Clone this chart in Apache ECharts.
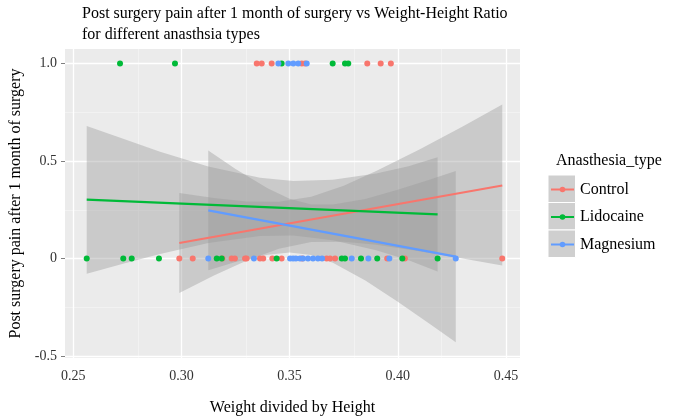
<!DOCTYPE html>
<html><head><meta charset="utf-8">
<script src="https://cdn.jsdelivr.net/npm/echarts@6/dist/echarts.min.js"></script>
<style>html,body{margin:0;padding:0;background:#fff}#chart{width:673px;height:419px}</style>
</head><body><div id="chart"></div>
<script>
// ---------- text ----------
const titleText = 'Post surgery pain after 1 month of surgery vs Weight-Height Ratio\nfor different anasthsia types';
const xTitle = 'Weight divided by Height';
const yTitle = 'Post surgery pain after 1 month of surgery';
const legendTitle = 'Anasthesia_type';
const groups = ['Control', 'Lidocaine', 'Magnesium'];
const groupColors = ['#F8766D', '#00BA38', '#619CFF'];

// ---------- axes ----------
const xTicks = [0.25, 0.30, 0.35, 0.40, 0.45];
const xMinor = [0.275, 0.325, 0.375, 0.425];
const yTicks = [-0.5, 0, 0.5, 1.0];
const yMinor = [-0.25, 0.25, 0.75];

// ---------- points ----------
const controlX = [0.2990,0.3052,0.3189,0.3232,0.3247,0.3294,0.3301,0.3363,0.3378,0.3420,0.3463,0.3558,0.3671,0.3687,0.3710,0.3951,0.4033,0.4483,
                  0.3348,0.3371,0.3417,0.3556,0.3571,0.3859,0.3921,0.3968];
const controlPain = [0,0,0,0,0,0,0,0,0,0,0,0,0,0,0,0,0,0, 1,1,1,1,1,1,1,1];
const lidocaineX = [0.2562,0.2731,0.2770,0.2896,0.3163,0.3186,0.3440,0.3741,0.3756,0.3830,0.3905,0.4021,0.4184,
                    0.2716,0.2970,0.3463,0.3699,0.3756,0.3771];
const lidocainePain = [0,0,0,0,0,0,0,0,0,0,0,0,0, 1,1,1,1,1,1];
const magnesiumX = [0.3124,0.3335,0.3502,0.3516,0.3529,0.3548,0.3562,0.3585,0.3608,0.3631,0.3650,0.3787,0.3864,0.3961,0.4268,
                    0.3448,0.3494,0.3517,0.3540,0.3579];
const magnesiumPain = [0,0,0,0,0,0,0,0,0,0,0,0,0,0,0, 1,1,1,1,1];

// ---------- fitted lines ----------
const controlFitX = [0.2990, 0.4483];
const controlFitY = [0.080, 0.375];
const lidocaineFitX = [0.2562, 0.4184];
const lidocaineFitY = [0.302, 0.227];
const magnesiumFitX = [0.3124, 0.4268];
const magnesiumFitY = [0.247, 0.010];

// ---------- confidence bands ----------
const controlBandX = [0.2990,0.3150,0.3300,0.3450,0.3600,0.3750,0.3900,0.4100,0.4300,0.4483];
const controlBandLow = [-0.177,-0.087,-0.011,0.051,0.085,0.086,0.071,0.038,0.001,-0.036];
const controlBandHigh = [0.337,0.311,0.293,0.291,0.317,0.374,0.449,0.560,0.677,0.790];
const lidocaineBandX = [0.2562,0.2747,0.2901,0.3124,0.3363,0.3517,0.3700,0.3900,0.4050,0.4184];
const lidocaineBandLow = [-0.078,-0.022,0.024,0.080,0.116,0.118,0.094,0.043,-0.008,-0.066];
const lidocaineBandHigh = [0.680,0.608,0.548,0.472,0.414,0.398,0.404,0.437,0.474,0.520];
const magnesiumBandX = [0.3124,0.3250,0.3400,0.3500,0.3600,0.3700,0.3850,0.4000,0.4150,0.4268];
const magnesiumBandLow = [-0.060,-0.018,0.020,0.031,0.018,-0.021,-0.112,-0.222,-0.337,-0.429];
const magnesiumBandHigh = [0.554,0.460,0.360,0.307,0.278,0.277,0.306,0.353,0.405,0.449];

const FONT = '"Liberation Serif", "DejaVu Serif", serif';
const zip = (a, b) => a.map((v, i) => [v, b[i]]);

const pts = [[controlX, controlPain], [lidocaineX, lidocainePain], [magnesiumX, magnesiumPain]];
const fits = [[controlFitX, controlFitY], [lidocaineFitX, lidocaineFitY], [magnesiumFitX, magnesiumFitY]];
const bands = [[controlBandX, controlBandLow, controlBandHigh],
               [lidocaineBandX, lidocaineBandLow, lidocaineBandHigh],
               [magnesiumBandX, magnesiumBandLow, magnesiumBandHigh]];

function bandSeries(b) {
  const [bx, lo, hi] = b;
  return {
    type: 'custom', silent: true, z: 2, animation: false,
    encode: { x: 0, y: [1, 2] },
    data: bx.map((v, i) => [v, lo[i], hi[i]]),
    renderItem: function (params, api) {
      if (params.dataIndex !== 0) return null;
      const poly = [];
      for (let i = 0; i < bx.length; i++) poly.push(api.coord([bx[i], hi[i]]));
      for (let i = bx.length - 1; i >= 0; i--) poly.push(api.coord([bx[i], lo[i]]));
      return { type: 'polygon', shape: { points: poly }, style: { fill: 'rgba(153,153,153,0.4)' } };
    }
  };
}

const series = [];
series.push({
  type: 'line', data: [], z: 1, silent: true, animation: false,
  markLine: { z: 1, silent: true, symbol: ['none', 'none'], label: { show: false }, animation: false,
    lineStyle: { color: '#F5F5F5', width: 0.7, type: 'solid' },
    data: xMinor.map(v => ({ xAxis: v })).concat(yMinor.map(v => ({ yAxis: v }))) }
});
series.push({
  type: 'line', data: [], z: 1, silent: true, animation: false,
  markLine: { z: 1, silent: true, symbol: ['none', 'none'], label: { show: false }, animation: false,
    lineStyle: { color: '#FFFFFF', width: 1.3, type: 'solid' },
    data: xTicks.map(v => ({ xAxis: v })).concat(yTicks.map(v => ({ yAxis: v }))) }
});
groups.forEach((g, i) => {
  series.push(bandSeries(bands[i]));
  series.push({
    name: g, type: 'line', z: 2, animation: false, silent: true,
    data: zip(fits[i][0], fits[i][1]),
    symbol: 'circle', symbolSize: 6, showSymbol: false,
    itemStyle: { color: groupColors[i] },
    lineStyle: { color: groupColors[i], width: 2.2 }
  });
});
groups.forEach((g, i) => {
  series.push({
    name: g + ' points', type: 'scatter', z: 3, animation: false, silent: true,
    data: zip(pts[i][0], pts[i][1]),
    symbol: 'circle', symbolSize: 6,
    itemStyle: { color: groupColors[i], opacity: 1, borderWidth: 0 }
  });
});

const chart = echarts.init(document.getElementById('chart'), null, { renderer: 'canvas' });
chart.setOption({
  backgroundColor: '#ffffff',
  animation: false,
  title: [
    { text: titleText, left: 82, top: 3.5, padding: 0,
      textStyle: { fontFamily: FONT, fontSize: 16, fontWeight: 'normal', color: '#000', lineHeight: 21 } },
    { text: legendTitle, left: 556, top: 150, padding: 0,
      textStyle: { fontFamily: FONT, fontSize: 16, fontWeight: 'normal', color: '#000', lineHeight: 21 } }
  ],
  grid: { left: 65, right: 153, top: 49, bottom: 61, show: true, backgroundColor: '#EBEBEB', borderWidth: 0,
          containLabel: false, outerBoundsMode: 'none' },
  legend: {
    data: groups, orient: 'vertical', left: 550, top: 181.5, padding: 0,
    itemWidth: 23, itemHeight: 7, itemGap: 11.5,
    textStyle: { fontFamily: FONT, fontSize: 16, color: '#000', padding: [0, 0, 0, 1] },
    selectedMode: false
  },
  graphic: [0, 1, 2].map(i => ({
    type: 'rect', left: 547.5, top: 174.5 + i * 27.5, z: -1, silent: true,
    shape: { width: 27.5, height: 27.5 },
    style: { fill: '#CFCFCF', stroke: '#FFFFFF', lineWidth: 1 }
  })),
  xAxis: {
    type: 'value', min: 0.24616, max: 0.4565,
    name: xTitle, nameLocation: 'middle', nameGap: 42,
    nameTextStyle: { fontFamily: FONT, fontSize: 16, color: '#000' },
    axisLine: { show: false },
    axisTick: { show: true, customValues: xTicks, length: 4, lineStyle: { color: '#7F7F7F' } },
    axisLabel: { customValues: xTicks, formatter: v => v.toFixed(2), fontFamily: FONT, fontSize: 14, color: '#333', margin: 11 },
    splitLine: { show: false }
  },
  yAxis: {
    type: 'value', min: -0.510, max: 1.075,
    name: yTitle, nameLocation: 'middle', nameGap: 35, nameRotate: 90,
    nameTextStyle: { fontFamily: FONT, fontSize: 16, color: '#000' },
    axisLine: { show: false },
    axisTick: { show: true, customValues: yTicks, length: 4, lineStyle: { color: '#7F7F7F' } },
    axisLabel: { customValues: yTicks, formatter: v => (v === 0 ? '0' : v.toFixed(1)), fontFamily: FONT, fontSize: 14, color: '#333', margin: 8 },
    splitLine: { show: false }
  },
  series: series
});
</script></body></html>
